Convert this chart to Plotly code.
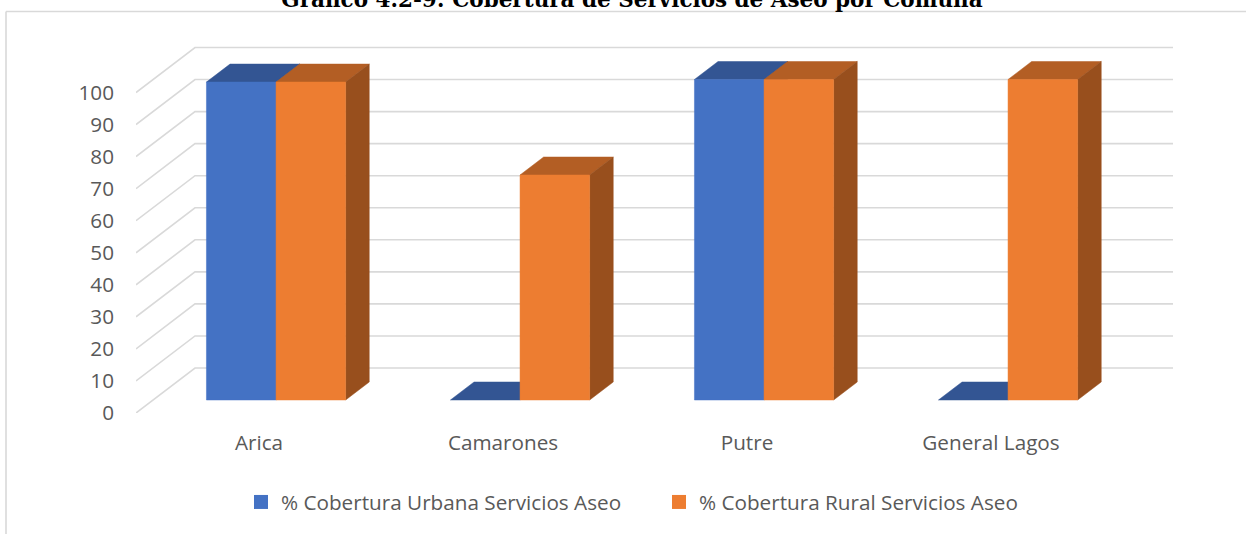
import plotly.graph_objects as go

categories = ["Arica", "Camarones", "Putre", "General Lagos"]
urbana = [99.2, 0, 100, 0]
rural = [99.2, 70.2, 100, 100]
y_ticks = [0, 10, 20, 30, 40, 50, 60, 70, 80, 90, 100]
series_names = ["% Cobertura Urbana Servicios Aseo", "% Cobertura Rural Servicios Aseo"]
title_text = "Gráfico 4.2-9: Cobertura de Servicios de Aseo por Comuna"

W, H = 1246, 534
L, R, T, B = 136, 1173, 40, 413        # plot area in pixels
PX_PER_CAT = 244.0
PX_PER_VAL = 3.205
X0_PX = 259.0                           # category 0 on the front plane
x_range = [(L - X0_PX) / PX_PER_CAT, (R - X0_PX) / PX_PER_CAT]
y_range = [0, (B - T) / PX_PER_VAL]

# oblique projection: depth 0 = front of floor, 1 = back wall
DX = 59 / PX_PER_CAT
DY = 45 / PX_PER_VAL
BAR_D0, BAR_D1 = 13 / 45, 31 / 45
BAR_W = 69.6 / PX_PER_CAT


def proj(x, v, d):
    return x + d * DX, v + d * DY


def ring(points):
    xs, ys = zip(*points)
    return list(xs) + [xs[0], None], list(ys) + [ys[0], None]


def faces(values, x_off):
    top, side, front = ([], []), ([], []), ([], [])
    for i, v in enumerate(values):
        a, b = i + x_off, i + x_off + BAR_W
        t = ring([proj(a, v, BAR_D0), proj(b, v, BAR_D0), proj(b, v, BAR_D1), proj(a, v, BAR_D1)])
        top[0].extend(t[0]); top[1].extend(t[1])
        if v > 0:
            s = ring([proj(b, 0, BAR_D0), proj(b, v, BAR_D0), proj(b, v, BAR_D1), proj(b, 0, BAR_D1)])
            side[0].extend(s[0]); side[1].extend(s[1])
            f = ring([proj(a, 0, BAR_D0), proj(b, 0, BAR_D0), proj(b, v, BAR_D0), proj(a, v, BAR_D0)])
            front[0].extend(f[0]); front[1].extend(f[1])
    return top, side, front


fig = go.Figure()


def poly(xy, color):
    fig.add_trace(go.Scatter(x=xy[0], y=xy[1], mode="lines", fill="toself", fillcolor=color,
                             line=dict(color=color, width=0.5), showlegend=False, hoverinfo="skip"))


# gridlines: floor/wall edge + back wall
gx, gy = [], []
for t in y_ticks:
    p0 = proj(x_range[0], t, 0)
    p1 = proj(x_range[0], t, 1)
    gx += [p0[0], p1[0], x_range[1], None]
    gy += [p0[1], p1[1], p1[1], None]
fig.add_trace(go.Scatter(x=gx, y=gy, mode="lines", line=dict(color="#D9D9D9", width=1.6),
                         showlegend=False, hoverinfo="skip"))

for values, off, c_top, c_side, c_front in [
    (urbana, -BAR_W, "#335593", "#2A4A82", "#4472C4"),
    (rural, 0.0, "#B35E24", "#984F1D", "#ED7D31"),
]:
    top, side, front = faces(values, off)
    poly(top, c_top)
    if side[0]:
        poly(side, c_side)
    poly(front, c_front)

for name, color in zip(series_names, ["#4472C4", "#ED7D31"]):
    fig.add_trace(go.Scatter(x=[None], y=[None], mode="markers", name=name,
                             marker=dict(symbol="square", size=14, color=color)))

plot_w, plot_h = R - L, B - T
# chart frame (top and left edges)
fig.add_shape(type="line", xref="paper", yref="paper",
              x0=(6 - L) / plot_w, x1=(W - L) / plot_w,
              y0=(B - 11.5) / plot_h, y1=(B - 11.5) / plot_h,
              line=dict(color="#D9D9D9", width=1.6))
fig.add_shape(type="line", xref="paper", yref="paper",
              x0=(6 - L) / plot_w, x1=(6 - L) / plot_w,
              y0=(B - 11.5) / plot_h, y1=(B - H) / plot_h,
              line=dict(color="#D9D9D9", width=1.6))

FONT = "Open Sans"
fig.update_layout(
    width=W, height=H, autosize=False,
    margin=dict(l=L, r=W - R, t=T, b=H - B, pad=0),
    paper_bgcolor="white", plot_bgcolor="white",
    font=dict(family=FONT, size=20.7, color="#595959"),
    title=dict(text=title_text, x=632 / W, xanchor="center", y=1.0, yanchor="bottom",
               pad=dict(b=-7),
               font=dict(family="DejaVu Serif", size=21.5, color="black", weight="bold")),
    xaxis=dict(range=x_range, tickmode="array", tickvals=list(range(len(categories))), ticktext=categories,
               showgrid=False, zeroline=False, showline=False, ticks="", ticklabelstandoff=15,
               fixedrange=True),
    yaxis=dict(range=y_range, tickmode="array", tickvals=y_ticks, showgrid=False, zeroline=False,
               showline=False, ticks="", ticklabelstandoff=21, fixedrange=True),
    legend=dict(orientation="h", xref="container", yref="container", x=241 / W, xanchor="left",
                y=1 - 482 / H, yanchor="top",
                entrywidth=373, entrywidthmode="pixels", itemsizing="trace",
                font=dict(family=FONT, size=20.7, color="#595959"), bgcolor="rgba(0,0,0,0)"),
)

fig.write_html("out.html", config={"displayModeBar": False},
               post_script="document.body.style.margin='0';document.body.style.overflow='hidden';")
